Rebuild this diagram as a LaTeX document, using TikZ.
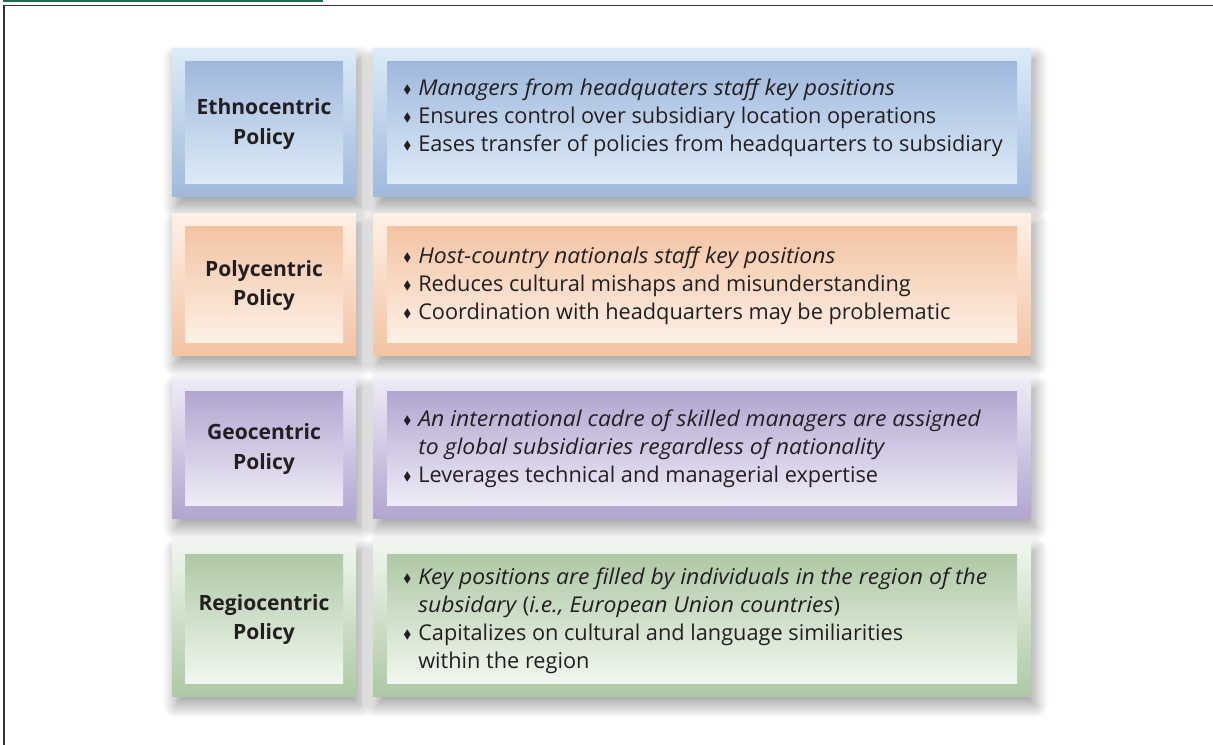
\documentclass[tikz,border=0pt]{standalone}
\usepackage{fontspec}
\usepackage{amssymb}
\setmainfont[ItalicFeatures={FakeStretch=1.055}]{Open Sans}
\usetikzlibrary{shadows.blur}

\definecolor{ethnoA}{HTML}{DDEBF7}
\definecolor{ethnoB}{HTML}{9FB8DC}
\definecolor{polyA}{HTML}{FDF0E6}
\definecolor{polyB}{HTML}{F3C4A3}
\definecolor{geoA}{HTML}{EEECF6}
\definecolor{geoB}{HTML}{B2A5D0}
\definecolor{regioA}{HTML}{F1F7EF}
\definecolor{regioB}{HTML}{AEC8A5}
\definecolor{frameline}{HTML}{333333}
\definecolor{bookgreen}{HTML}{1D6A50}
\definecolor{inktext}{HTML}{231F20}

\newcommand{\bul}{\makebox[11.25pt][l]{\raisebox{1.9pt}{\fontsize{9}{9}\selectfont$\blacklozenge$}}}
\newcommand{\nobul}{\hspace*{11.25pt}}

\tikzset{
  outerbox/.style={blur shadow={shadow xshift=3pt, shadow yshift=-7pt,
      shadow blur radius=10pt, shadow blur steps=14, shadow opacity=40}},
  policylabel/.style={font=\fontsize{15.8}{21.8}\selectfont\bfseries, align=center, text=inktext},
  policytext/.style={font=\fontsize{16.3}{21}\selectfont, align=left, anchor=north west,
      inner sep=0pt, text=inktext},
}

\begin{document}
\begin{tikzpicture}[x=0.75pt, y=-0.75pt]

  \useasboundingbox (0,0) rectangle (1213,745);

  %page frame
  \draw[bookgreen, line width=1.5pt] (3,0.6) -- (323,0.6);
  \draw[frameline, line width=1.4pt] (4,745) -- (4,5.5) -- (1213,5.5);

  \def\bw{13};

  %boxes and text
  \foreach \y/\h/\ty/\ca/\cb/\name/\lab/\txt in {
      49/148/87/ethnoA/ethnoB/ethno/{Ethnocentric\\Policy}/{\bul\textit{Managers from headquaters staff key positions}\\
                                                          \bul Ensures control over subsidiary location operations\\
                                                          \bul Eases transfer of policies from headquarters to subsidiary},
      214/141/255/polyA/polyB/poly/{Polycentric\\Policy}/{\bul\textit{Host-country nationals staff key positions}\\
                                                          \bul Reduces cultural mishaps and misunderstanding\\
                                                          \bul Coordination with headquarters may be problematic},
      378/140/418/geoA/geoB/geo/{Geocentric\\Policy}/{\bul\textit{An international cadre of skilled managers are assigned}\\
                                                          \nobul\textit{to global subsidiaries regardless of nationality}\\
                                                          \bul Leverages technical and managerial expertise},
      541/155/576/regioA/regioB/regio/{Regiocentric\\Policy}/{\bul\textit{Key positions are filled by individuals in the region of the}\\
                                                          \nobul\textit{subsidary} (\textit{i.e., European Union countries})\\
                                                          \bul Capitalizes on cultural and language similiarities\\
                                                          \nobul within the region}}{
      % left frame
      \shade[outerbox, top color=\ca, bottom color=\cb] (172,\y) rectangle (356,\y+\h);
      \shade[top color=\cb, bottom color=\ca] (172+\bw,\y+\bw) rectangle (356-\bw,\y+\h-\bw);
      % right frame
      \shade[outerbox, top color=\ca, bottom color=\cb] (373,\y) rectangle (1031,\y+\h);
      \shade[top color=\cb, bottom color=\ca] (373+\bw+1,\y+\bw) rectangle (1031-\bw-1,\y+\h-\bw);

      \node[policylabel] (\name-lab) at (264,\y+\h/2+1) {\lab};
      \node[policytext] (\name-txt) at (403,\ty-8) {\txt};
  }

\end{tikzpicture}
\end{document}
